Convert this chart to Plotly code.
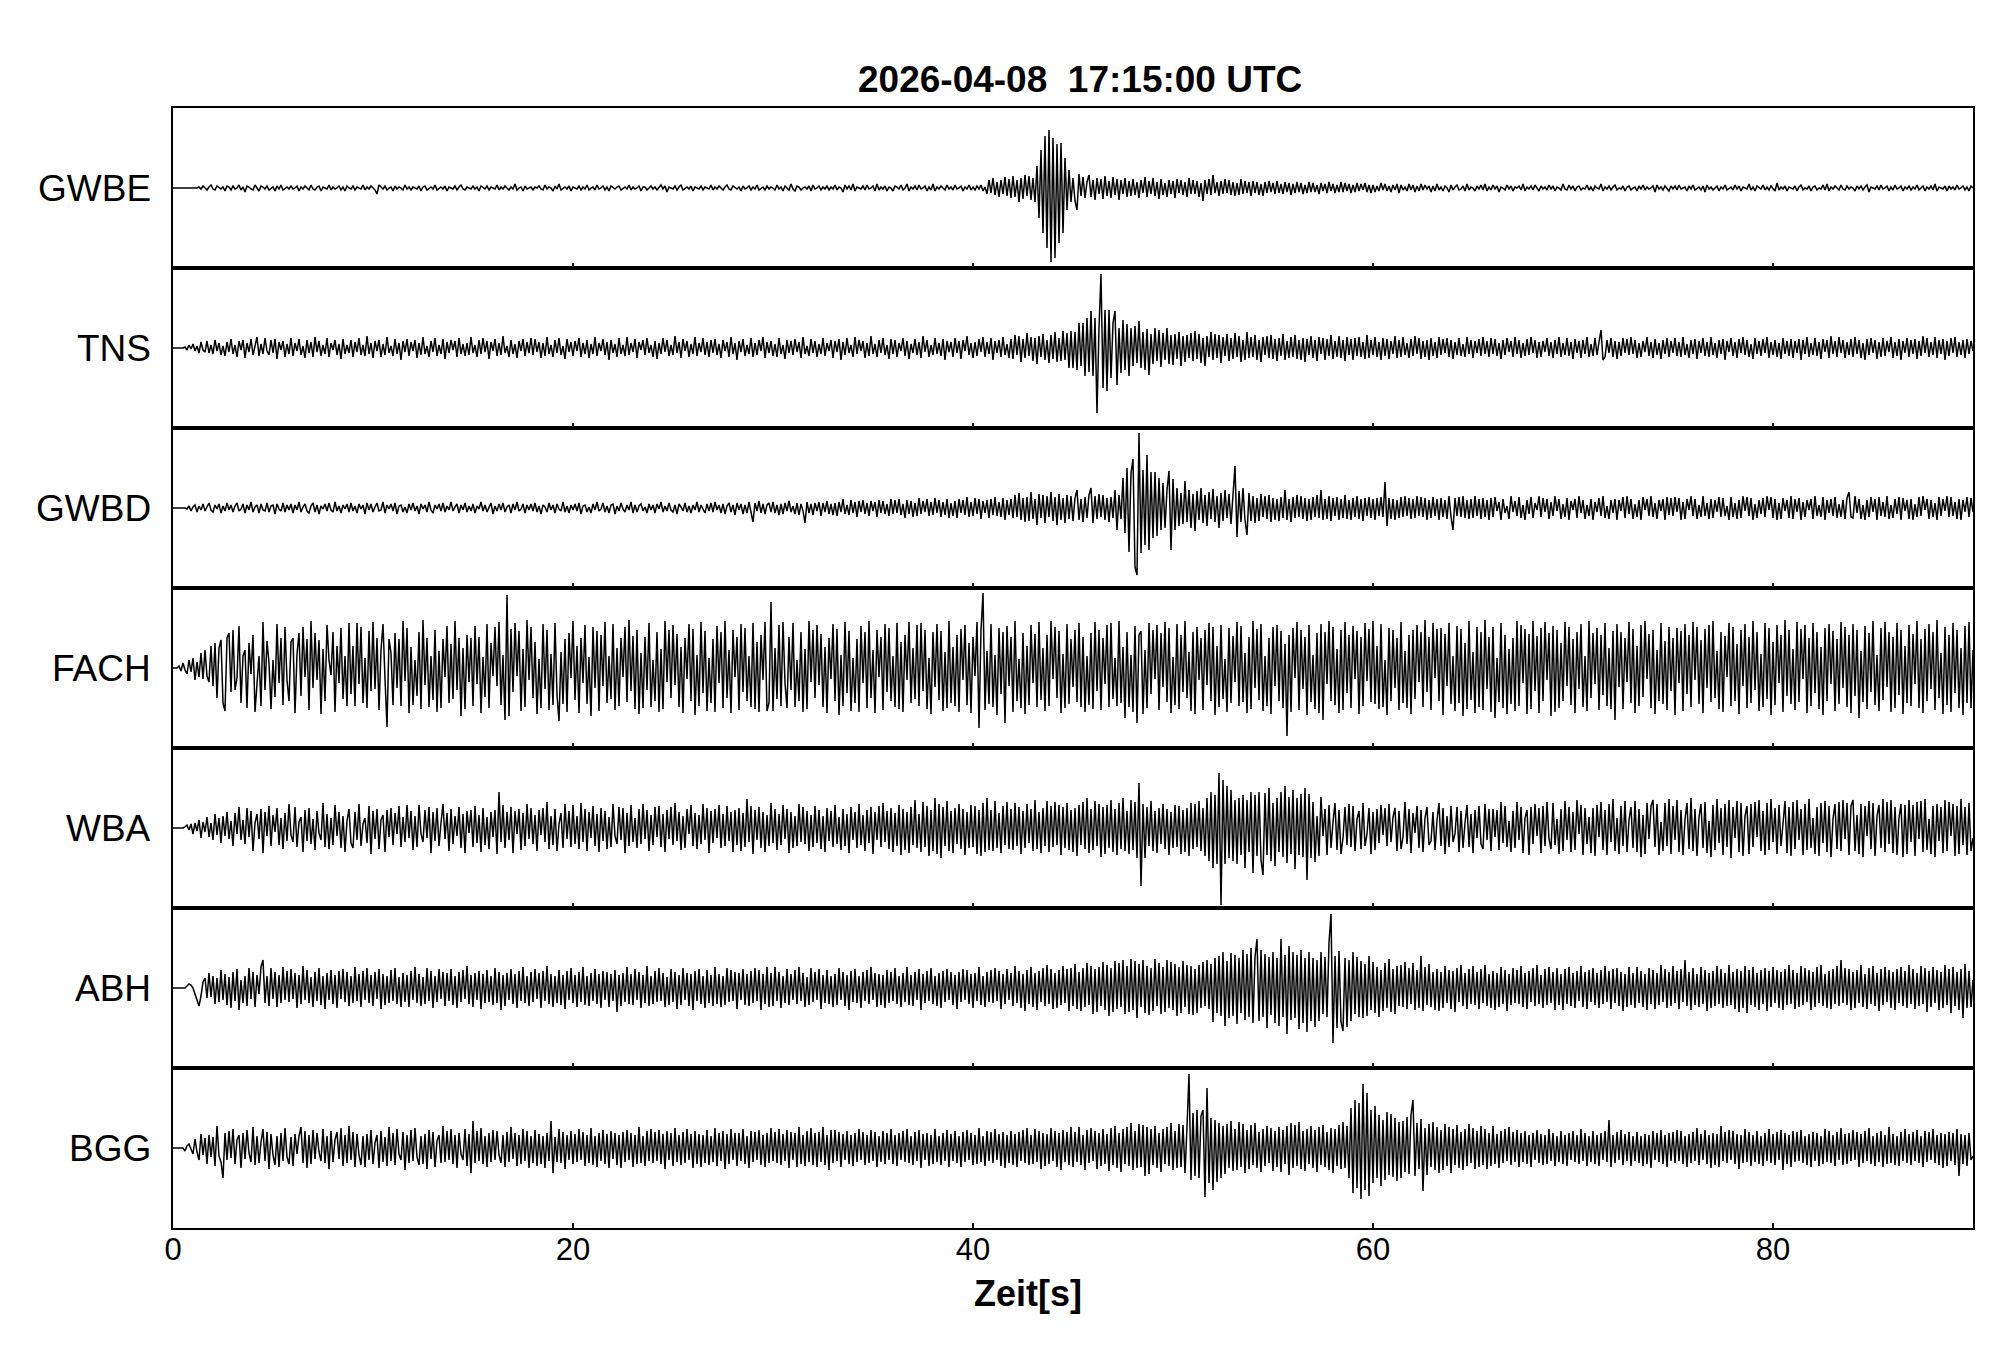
import numpy as np
import plotly.graph_objects as go
from plotly.subplots import make_subplots

TITLE = "2026-04-08\u00a0 17:15:00 UTC"
X_TITLE = "Zeit[s]"
STATIONS = ["GWBE", "TNS", "GWBD", "FACH", "WBA", "ABH", "BGG"]
DT = 0.1  # seconds between samples
X_TICKS = [0, 20, 40, 60, 80]
X_RANGE = [0, 90]

GWBE = [
    0,0,0,0,0,0,0,0,0,0, 0,0,0,1,-1,2,0,-2,1,3, -1,-2,2,0,-1,1,-3,2,1,-2,
    2,-1,0,3,-2,1,-4,2,1,-1, -2,3,0,-3,2,1,-1,2,-2,0, 1,-3,2,-1,3,-2,0,1,-1,2,
    -1,0,2,-3,1,-1,2,0,-2,3, -1,-2,1,2,-3,1,0,-1,3,-2, 1,-1,0,2,-2,1,-3,2,0,-1,
    2,-2,1,0,-1,3,-2,1,-1,2, 0,-2,-6,3,1,-1,2,-2,0,1, -3,2,-1,1,0,-2,3,-1,1,-2,
    1,0,-1,2,-3,1,2,-2,0,1, -1,3,-2,0,1,-1,2,-3,1,0, -1,2,-2,1,3,-1,-2,1,0,-1,
    2,-1,1,-3,2,0,-1,2,-2,1, 0,-1,3,-2,1,-1,2,0,-2,1, -1,4,-2,0,1,-3,2,-1,0,1,
    -2,1,0,2,-1,-2,3,-1,1,0, -3,2,-1,4,-2,0,1,-1,2,-3, 1,0,-1,2,-2,1,-1,3,-2,0,
    1,-2,3,-1,0,2,-2,1,-3,2, 0,-1,1,2,-2,0,1,-1,3,-2, 1,-1,0,2,-3,1,1,-2,0,2,
    -1,1,-2,0,3,-1,2,-4,1,0, -1,2,-2,1,3,-2,0,1,-1,2, -3,1,0,-1,2,-2,1,0,-1,3,
    -2,1,-1,2,0,-2,1,3,-1,-2, 2,0,-1,1,-3,2,-1,0,2,-2, 1,-1,3,-2,0,1,-2,2,-1,1,
    0,-2,3,-1,1,-3,2,0,-2,4, -1,-3,2,1,-2,0,1,-1,2,-3, 3,-1,0,2,-2,1,-1,2,-2,1,
    -1,3,-2,1,0,-4,3,-1,2,-2, 4,-3,1,0,-1,2,-2,3,-1,0, 2,-3,4,-2,1,-1,2,-3,1,0,
    -3,2,1,-1,3,-2,0,4,-3,1, -1,2,-2,3,-1,0,2,-3,1,-2, 4,-3,1,-1,2,0,-2,3,-1,1,
    -2,3,-1,0,2,-3,1,-1,3,-2, 1,-2,2,-1,3,-3,1,-6,8,-5, 10,-7,6,-9,8,-6,11,-8,9,-10,
    12,-9,8,-14,10,-11,13,-8,12,-12, 10,-14,22,-30,38,-45,52,-60,58,-74, 50,-70,44,-55,45,-45,30,-22,18,-14,
    10,-13,-22,14,-8,11,-10,6,13,-9, 8,-12,10,-6,9,-11,12,-8,7,-10, 11,-7,9,-12,8,-6,10,-9,7,-8,
    9,-7,6,-10,8,-5,11,-9,7,-6, 10,-8,6,-11,9,-7,5,-9,8,-6, 7,-10,9,-5,8,-7,6,-9,10,-6,
    8,-6,7,-9,5,-13,8,-6,9,-7, 13,-5,6,-8,7,-6,9,-5,8,-7, 6,-8,5,-7,9,-6,7,-5,6,-8,
    7,-5,6,-7,4,-8,6,-5,7,-4, 5,-6,7,-5,4,-6,6,-4,5,-7, 4,-5,6,-4,5,-6,3,-5,6,-4,
    5,-4,3,-6,5,-3,4,-5,6,-3, 4,-5,3,-4,6,-4,5,-3,4,-5, 3,-4,5,-3,4,-2,5,-4,3,-5,
    3,-4,2,-3,5,-2,4,-3,2,-4, 3,-2,4,-5,3,-2,1,-3,4,-2, 3,-4,2,-3,4,-2,3,-1,2,-4,
    2,-3,4,-2,1,-3,2,0,-4,3, -2,1,3,-2,-1,2,-3,4,-2,1, 0,-3,2,-1,3,-2,4,-3,1,-2,
    3,-1,2,-4,1,0,-2,3,-1,2, -3,1,0,2,-2,4,-3,1,-1,2, -2,3,0,-3,2,-1,1,-2,3,-1,
    2,-3,1,0,-2,4,-1,-2,3,-1, 2,-3,1,2,-2,0,-1,3,-2,1, -3,2,0,-1,4,-3,1,-1,2,-2,
    1,3,-2,0,-1,2,-3,1,2,-2, 0,1,-3,2,-1,3,-2,1,-1,0, 2,-4,3,-1,1,-2,2,0,-3,2,
    -1,2,-2,3,-1,0,1,-3,2,-1, 3,-2,0,1,-2,2,-4,3,-1,1, -2,0,2,-3,1,-1,3,-2,0,1,
    -2,3,-1,2,-3,1,0,-1,4,-2, 1,-3,2,0,-1,3,-2,1,-2,2, 0,-3,5,-2,1,-1,2,-3,1,0,
    -1,2,-3,1,3,-2,0,-1,2,-3, 1,2,-2,0,-1,3,-2,4,-3,1, -1,2,0,-2,3,-1,-2,2,-1,1,
    0,-3,2,-1,2,-2,1,3,-4,1, 0,-1,2,-2,3,-1,0,2,-3,1, -2,3,-1,0,2,-3,1,-1,2,-2,
    1,-1,3,-2,0,2,-3,1,-1,2, -2,4,-3,1,0,-1,2,-3,2,-1, 1,-2,3,-1,0,2,-2,1,-3,2,
    0,
]

TNS = [
    0,0,0,0,0,0,1,-2,3,-1, 4,-3,2,-5,6,-2,-4,7,-5,3, -6,8,-3,5,-7,2,-8,6,-4,9,
    -6,3,-9,7,-2,8,-10,5,-4,9, -7,2,11,-8,4,-6,10,-3,-7,8, -5,9,-11,6,-2,7,-9,4,-6,10,
    -8,5,-3,9,-7,2,-10,8,-5,6, -9,11,-4,7,-8,3,-6,10,-9,5, -2,8,-7,4,-11,9,-6,3,-5,8,
    -9,6,-4,10,-7,3,-8,12,-6,5, -10,7,-3,8,-9,4,-7,11,-5,2, -8,9,-6,5,-12,7,-4,9,-8,6,
    -3,8,-10,5,-7,11,-6,2,-9,7, -4,10,-8,3,-6,9,-11,6,-5,8, -2,7,-9,10,-6,4,-8,5,-7,11,
    -5,3,-9,8,-6,10,-4,7,-11,6, -3,9,-8,5,-7,12,-5,2,-9,8, -6,4,-10,7,-3,9,-8,6,-5,10,
    -7,9,-4,6,-10,5,-8,11,-6,3, -9,8,-5,10,-7,2,-11,9,-4,6, -8,7,-3,10,-9,5,-6,8,-10,4,
    -6,11,-8,5,-3,9,-7,6,-12,8, -5,4,-9,10,-6,3,-8,11,-7,5, -4,9,-10,6,-2,8,-7,10,-5,3,
    -9,7,-11,5,-6,10,-4,8,-8,3, -7,12,-5,6,-10,9,-3,7,-9,4, -6,11,-8,5,-4,10,-7,6,-9,8,
    -5,9,-7,4,-10,8,-3,6,-9,11, -6,5,-12,7,-4,9,-8,3,-6,10, -9,5,-7,8,-3,11,-10,6,-5,7,
    -8,4,-9,10,-6,3,-11,8,-5,7, -7,9,-4,6,-10,11,-6,2,-8,9, -5,7,-9,4,-6,10,-8,5,-3,8,
    -10,7,-4,9,-12,6,-7,10,-5,3, -9,11,-6,8,-3,7,-10,5,-8,12, -6,4,-9,8,-5,10,-7,3,-11,9,
    -6,8,-9,5,-3,10,-8,7,-11,4, -5,9,-7,6,-10,12,-4,8,-9,3, -7,10,-6,5,-8,9,-12,7,-4,6,
    -9,10,-5,7,-11,8,-3,12,-7,5, -10,6,-8,9,-4,11,-9,6,-6,10, -12,7,-5,8,-9,11,-7,4,-10,9,
    -11,13,-7,12,-14,9,-10,15,-8,11, -13,10,-16,12,-9,14,-12,8,-15,13, -11,16,-14,10,-13,17,-12,15,-20,17,
    -20,16,-22,25,-18,25,-28,30,-24,37, -28,30,-65,20,74,-40,38,-43,38,-30, 25,37,-37,20,-25,28,-22,24,-28,20,
    -18,22,-15,27,-20,16,-22,19,-27,14, -16,20,-13,18,-19,15,-12,20,-16,13, -17,14,-11,16,-18,12,-14,13,-10,15,
    -13,17,-11,14,-15,10,-18,12,-9,16, -12,14,-10,13,-15,11,-8,14,-13,10, -11,15,-9,12,-14,8,-12,16,-10,11,
    -9,13,-12,8,-14,11,-7,12,-10,13, -11,9,-13,10,-8,14,-12,7,-10,11, -9,13,-11,8,-12,10,-14,9,-7,12,
    -10,8,-13,11,-6,10,-12,9,-8,13, -11,7,-9,12,-10,8,-13,11,-7,9, -12,10,-8,11,-9,6,-11,13,-10,8,
    -7,11,-9,6,-12,10,-8,9,-11,7, -6,12,-10,8,-9,11,-7,5,-10,9, -8,12,-6,10,-11,7,-9,8,-12,10,
    -8,6,-10,11,-7,9,-5,10,-9,8, -11,6,-7,10,-8,4,-9,11,-6,8, -10,7,-5,9,-8,11,-6,7,-9,10,
    -6,9,-8,5,-11,8,-7,10,-4,7, -9,11,-6,8,-10,5,-8,9,-7,11, -5,8,-10,6,-9,7,-4,10,-8,6,
    -10,8,-6,11,-9,5,-7,10,-8,6, -11,9,-5,7,-10,8,-6,11,-9,4, -8,10,-7,6,18,-12,-9,8,-5,10,
    -9,7,-11,6,-8,10,-5,9,-7,11, -6,8,-10,5,-9,7,-4,11,-8,6, -10,9,-7,5,-11,8,-6,10,-9,7,
    -5,10,-8,6,-9,11,-7,4,-10,8, -6,9,-11,7,-5,10,-8,6,-9,11, -7,5,-10,8,-6,9,-12,7,-4,10,
    -8,6,-10,9,-5,11,-7,8,-9,4, -11,10,-6,7,-8,9,-5,11,-10,6, -7,8,-9,5,-11,10,-6,7,-8,9,
    -10,7,-5,9,-12,8,-6,11,-9,5, -7,10,-8,6,-11,9,-4,8,-10,12, -6,7,-9,11,-5,8,-10,6,-7,9,
    -9,11,-6,8,-10,5,-12,9,-7,10, -5,8,-11,6,-9,10,-8,7,-4,11, -10,6,-8,9,-12,7,-5,10,-9,8,
    -6,9,-11,7,-8,12,-5,10,-9,6, -7,11,-10,8,-6,9,-12,7,-8,10, -5,11,-9,6,-7,8,-10,9,-6,7,
    -3,
]

GWBD = [
    0,0,0,0,0,0,0,-1,2,-3, 1,3,-4,2,-2,4,-3,1,5,-2, -4,3,-1,4,-5,2,-3,5,-2,3,
    -4,2,5,-3,-1,4,-5,3,-2,6, -4,1,3,-5,4,-2,-3,5,-4,2, 3,-6,4,-1,-3,5,-4,3,-2,4,
    -5,3,-2,6,-4,1,4,-3,-5,2, 5,-4,3,-6,2,-1,4,-3,5,-2, -4,6,-3,2,-5,3,-1,4,-4,5,
    -3,2,-5,4,-1,3,-6,5,-2,4, -4,1,5,-3,-2,6,-5,3,-1,4, -3,5,-6,2,3,-4,1,-5,4,-2,
    5,-3,2,-6,4,-1,3,-4,6,-2, -5,3,-1,4,-3,5,-4,2,-2,6, -3,1,4,-5,3,-2,5,-4,2,-3,
    4,-5,2,-1,6,-3,3,-4,1,5, -6,2,-3,4,-2,5,-4,1,3,-5, 4,-2,6,-3,-1,4,-5,3,-2,4,
    -3,5,-4,2,-6,3,1,-4,5,-2, 3,-5,4,-1,-3,6,-4,2,-5,3, -2,4,-3,5,-6,2,3,-4,1,-5,
    4,-2,6,-3,-1,5,-4,2,-5,3, 4,-6,2,-3,5,-1,-4,3,-2,6, -5,3,-4,2,4,-3,1,-5,4,-2,
    3,-5,4,-1,6,-4,2,-3,5,-2, -4,3,-6,4,1,-3,5,-4,2,-5, 3,-2,6,-4,3,-1,-5,4,-3,5,
    -4,6,-2,3,-5,4,-6,2,5,-4, 3,-7,5,-2,4,-6,3,-5,6,-4, -14,5,-3,7,-5,4,-6,3,5,-4,
    6,-5,3,-7,4,-6,5,-3,7,-4, 2,-6,5,-7,4,-3,-15,6,-5,4, -7,5,-3,6,-8,5,-4,7,-6,4,
    -7,5,-8,6,-4,9,-6,3,-7,8, -5,6,-9,7,-4,8,-6,5,-8,7, -3,6,-9,8,-5,7,-6,4,-8,9,
    -6,8,-5,9,-7,4,-10,8,-6,7, -9,5,-8,10,-6,7,-4,9,-8,6, -7,10,-5,8,-9,6,-7,9,-10,5,
    -8,7,-10,9,-5,8,-7,11,-9,6, -8,10,-6,9,-11,7,-5,8,-10,9, -7,11,-8,6,-9,10,-12,8,-7,9,
    -10,13,-9,15,-12,10,-14,11,-13,16, -11,9,-17,14,-10,13,-15,12,-9,16, -13,11,-17,14,-12,10,-15,13,-11,12,
    -13,10,18,-12,9,-14,11,-10,13,20, -15,12,-11,14,-9,13,-12,10,-14,11, -10,18,-22,13,-11,30,-25,40,-44,35,
    49,-59,-67,75,-45,38,-37,53,-42,36, -30,36,-28,30,-22,25,-20,18,37,-42, 29,-22,20,-18,15,-16,27,-14,18,-20,
    14,-23,17,-12,20,-15,13,-18,16,-11, 19,-14,12,-20,15,-13,18,-10,14,-16, 12,42,-29,17,-14,20,-12,-27,15,-13,
    12,-15,10,-13,14,-9,12,-11,13,-14, 10,-12,9,-13,11,-10,18,-12,9,-14, 11,-10,13,-9,12,-11,10,-13,9,-12,
    11,-9,13,-10,18,-12,9,-11,12,-13, 10,-8,11,-12,9,-10,13,-11,8,-12, 10,-9,12,-11,9,-13,10,-8,11,-10,
    9,-12,10,-8,11,-9,26,-18,10,-11, 9,-12,8,-10,11,-9,12,-8,10,-11, 9,-10,12,-8,11,-9,10,-12,8,-10,
    11,-8,9,-12,10,-9,8,-11,12,-9, -22,10,-8,11,-9,12,-10,8,-11,9, -10,12,-8,9,-11,10,-9,8,-12,10,
    -9,11,-3,6,-12,9,-5,2,-11,12, -4,7,-8,11,-10,3,-12,8,-6,11, -10,5,-2,12,-9,10,-4,9,-11,6,
    -8,12,-3,9,-11,4,-9,10,-12,7, -2,9,-10,12,-5,8,-11,3,-8,9, -12,6,-4,10,-8,12,-10,2,-11,8,
    -5,9,-12,8,-3,11,-10,12,-6,9, -11,4,-9,8,-12,11,-2,9,-8,12, -9,5,-11,8,-3,9,-12,11,-7,10,
    -8,11,-4,10,-12,6,-11,9,-2,12, -8,9,-11,3,-9,12,-8,5,-11,9, -10,8,-4,11,-9,10,-8,2,-12,11,
    -9,5,-11,8,-10,12,-3,11,-8,10, -12,4,-10,8,-6,10,-9,12,-2,11, -10,9,-12,5,-11,10,-3,8,-10,12,
    -11,9,-4,10,-12,6,-9,8,-2,9, -11,12,-8,3,-9,11,-12,8,-5,9, -8,11,-10,4,-9,8,-11,10,16,-9,
    -10,12,-5,9,-11,3,-12,8,-9,11, -4,9,-12,11,-8,6,-9,12,-11,3, -10,9,-6,11,-12,10,-3,8,-11,9,
    -12,4,-9,11,-8,12,-2,9,-11,8, -9,5,-12,11,-8,9,-3,12,-9,11, -8,6,-11,9,-12,8,-4,11,-9,10,
    -4,
]

FACH = [
    0,0,0,2,-3,5,-2,-6,8,-4, 10,-12,6,-9,15,-11,18,-8,-14,22, -18,25,-30,20,28,-35,-43,30,35,-24,
    38,-22,-10,42,-35,12,18,-40,25,-6, 33,-44,-20,12,-38,46,-22,27,5,-41, 8,-29,44,-15,30,-37,41,-12,-33,26,
    30,-45,14,35,-28,41,-9,29,-42,47, -20,35,-12,28,-46,19,-33,43,8,-7, 36,-44,22,-15,40,-31,12,-38,45,-26,
    22,-38,45,-16,41,-35,10,-40,37,-23, 46,-21,30,-42,18,44,-11,-59,29,15, -37,35,-20,29,-38,47,-13,40,-45,21,
    -37,8,-28,36,-41,48,-17,30,-39,12, -32,38,-44,17,-40,29,-9,42,-35,24, -31,47,-22,30,-48,20,-41,33,-14,30,
    -38,42,-16,31,-45,11,-29,44,-40,25, -8,41,-18,46,-37,13,-52,73,-48,39, -24,45,-8,37,-43,19,-39,48,-12,41,
    -30,26,-46,9,-40,44,-21,38,-42,14, -37,45,-27,-53,16,-36,29,-44,35,-10, 47,-32,22,-45,30,-15,43,-36,11,-48,
    41,-20,37,-43,33,-18,46,-35,12,-31, 44,-42,20,-38,30,-9,41,-34,48,-23, 32,-41,38,-46,15,-40,31,-22,45,-39,
    8,-33,36,-44,19,-41,47,-14,38,-30, 43,-17,34,-39,21,-45,30,-11,44,-33, 39,-47,13,-38,46,-25,37,-43,10,-35,
    29,-44,42,-15,36,-40,47,-30,18,-45, 38,-9,31,-42,44,-24,40,-33,12,-39, 45,-41,26,-44,33,-12,46,-43,-35,66,
    -43,20,-31,43,-38,46,-15,-40,31,-22, 45,-39,8,-33,36,-44,19,-41,47,-14, 38,-30,43,-17,34,-39,21,-45,30,-11,
    44,-33,39,-47,13,-38,46,-25,37,-43, 10,-35,29,-44,42,-15,36,-40,47,-30, 18,-45,38,-9,31,-42,44,-24,40,-33,
    12,-39,45,-41,26,-44,33,-12,46,-35, 20,-31,43,-38,45,-23,38,-41,10,-46, 36,-19,44,-32,37,-43,16,-40,47,-35,
    21,-38,33,-44,39,-12,43,-37,25,-45, 31,-8,46,-60,38,75,-42,17,-36,44, -39,13,-47,40,-26,36,-55,42,-18,31,
    -44,47,-33,9,-40,35,-46,22,-37,43, -15,34,-39,46,-32,20,-43,33,-38,47, -11,41,-30,37,-45,14,-40,44,-36,29,
    -19,38,-34,45,-39,31,-44,12,-37,35, -41,46,-23,38,-42,30,-16,43,-39,45, -31,10,-38,47,-35,21,-50,36,-39,13,
    -44,42,-55,33,37,-46,18,-40,45,-26, 38,-11,43,-42,35,-19,46,-34,40,-45, 11,-37,44,-41,33,-24,47,-30,16,-43,
    36,-46,41,-12,30,-42,38,-17,45,-33, 41,-47,22,-39,43,-31,9,-44,40,-35, 32,-14,46,-38,42,-34,15,-45,31,-41,
    47,-20,39,-32,44,-43,12,-38,30,-46, 41,-18,43,-33,37,-40,24,-68,33,-44, 40,-10,46,-42,38,-21,31,-47,43,-34,
    13,-41,35,-45,44,-52,36,-16,47,-33, 41,-37,19,-45,38,-42,46,-25,33,-40, 42,-11,37,-46,31,-38,45,-13,39,-34,
    47,-36,22,-41,44,-39,8,-47,40,-33, 38,-20,30,-42,46,-35,17,-40,33,-46, 38,-31,43,-14,36,-39,48,-24,31,-42,
    45,-10,39,-33,40,-47,34,-18,45,-36, 12,-43,42,-35,39,-48,25,-41,47,-32, 16,-45,41,-39,36,-42,48,-21,31,-44,
    41,-50,10,-34,45,-40,33,-46,19,-36, 30,-43,47,-38,43,-15,39,-46,34,-41, 47,-23,32,-45,40,-33,46,-12,35,-48,
    42,-44,38,-40,25,-33,46,-18,41,-37, 29,-45,36,-21,44,-39,12,-43,47,-30, 35,-16,40,-42,33,-27,45,-38,20,-41,
    37,-52,44,-19,36,-41,30,-14,46,-35, 39,-45,22,-38,43,-29,47,-11,34,-40, 38,-46,18,-33,45,-36,27,-42,41,-23,
    30,-47,40,-15,37,-43,44,-26,33,-39, 46,-12,41,-36,28,-45,39,-20,43,-34, 47,-30,17,-41,36,-44,32,-9,45,-38,
    41,-33,24,-46,38,-18,44,-40,31,-35, 47,-22,36,-43,14,-39,45,-31,40,-47, 26,-37,43,-15,33,-44,48,-28,38,-36,
    19,-42,46,-34,39,-11,43,-45,30,-38, 45,-25,36,-41,21,-47,40,-33,44,-16, 37,-43,29,-36,46,-20,41,-39,33,-45,
    44,-28,38,-50,17,-34,42,-41,35,-24, 47,-37,13,-43,40,-32,46,-19,36,-44, 31,-40,45,-27,38,-46,22,-35,43,-38,
    34,-16,47,-40,29,-45,39,-33,44,-21, 36,-42,48,-30,15,-46,41,-37,33,-44, 45,-25,38,-40,20,-47,42,-35,46,-40,
    18,
]

WBA = [
    0,0,0,0,0,0,1,3,-2,4, -6,5,-3,8,-10,6,-4,11,-9,5, -12,14,-7,10,-15,12,-8,16,-11,7,
    -18,15,-6,21,-12,8,-16,20,-9,17, -23,5,14,-11,19,-25,16,-8,22,-18, 13,-4,20,-17,10,-21,15,-13,24,-7,
    -14,21,-19,6,11,-24,18,-13,20,-16, 9,-22,17,-5,-12,25,-19,14,-21,10, -17,23,-8,16,-20,12,-24,7,19,-15,
    -20,16,-12,24,-18,4,10,-15,22,-26, 17,-11,19,-21,8,13,-24,18,-9,20, -17,15,-6,22,-19,11,-14,23,-10,17,
    -22,12,-19,23,-6,-14,18,-10,21,-25, 16,-13,20,-18,5,24,-11,15,-23,19, -16,12,-8,21,-20,14,-25,17,-5,18,
    -19,22,-15,13,-24,20,-17,11,-21,16, -9,18,-26,36,-14,23,-20,16,-12,21, -25,17,-6,19,-22,15,-18,24,-11,20,
    -16,13,-23,18,-7,20,-14,26,-21,12, -17,19,-23,4,15,-20,24,-11,17,-19, 23,-16,12,-21,25,-14,19,-23,16,-10,
    22,-18,14,-24,20,-13,17,-21,11,-19, 24,-8,-16,21,-12,20,-25,15,-18,23, -14,10,-20,19,-16,24,-11,18,-23,13,
    -17,21,-9,22,-19,14,-24,18,-11,21, -17,25,-13,16,-22,12,-20,19,-6,23, -18,15,-21,13,-16,24,-12,20,-25,17,
    -15,19,-10,23,-20,14,-18,22,-13,16, -24,18,-17,20,-23,15,-19,29,-14,22, -26,18,-12,21,-20,16,-24,13,-18,25,
    -15,19,-22,14,-17,23,-11,19,-25,16, -20,12,-18,24,-14,21,-16,17,-23,13, -19,22,-15,18,-21,12,-24,20,-13,17,
    -19,23,-16,11,-22,19,-18,14,-25,21, -12,16,-20,24,-17,13,-23,18,-15,21, -26,16,-12,22,-19,25,-14,17,-21,20,
    -24,15,-18,23,-27,19,-22,16,-25,21, -17,28,-20,14,-24,26,-19,22,-28,18, -23,30,-26,24,-30,21,-18,27,-23,17,
    -25,20,-16,24,-21,19,-27,16,-20,23, -19,22,-26,18,-28,25,-24,30,-22,18, -23,27,-20,15,-25,22,-17,26,-21,19,
    -22,25,-18,21,-26,17,-20,24,-15,19, -23,28,-21,16,-25,20,-18,27,-24,22, -19,26,-17,23,-27,21,-20,25,-22,18,
    -24,20,-28,23,-17,26,-21,30,-25,19, -22,27,-18,24,-29,21,-26,23,-20,28, -24,19,-27,25,-21,30,-23,17,-26,28,
    -22,26,-30,45,-58,24,-30,21,-18,27, -23,17,-25,20,-16,24,-21,19,-27,16, -20,23,-19,22,-26,18,-24,20,-28,25,
    -21,24,-19,27,-23,20,-28,30,-33,36, -40,33,-36,55,-77,48,-36,42,-30,38, -33,28,-36,30,-27,33,-40,28,-24,36,
    -45,33,-28,36,-32,-47,35,-27,40,-33, 25,-38,30,-24,36,-29,42,-35,31,-26, 38,-41,30,-27,34,-29,40,-52,34,-30,
    26,-34,12,-28,31,-8,19,-27,23,-20, 6,25,-22,18,-26,-10,21,-17,24,-19, 22,-23,9,17,-21,25,-18,-6,20,-26,
    16,-22,19,-15,23,-7,20,-18,24,-14, 11,20,-23,17,-21,-9,26,-16,19,-25, 15,-5,22,-20,18,-24,10,21,-17,-13,
    16,-22,8,25,-18,20,-26,12,-19,22, -14,-6,21,-24,17,-20,5,23,-19,14, -25,18,-10,22,-16,-21,24,-12,19,-23,
    19,-9,18,-22,26,-15,22,-19,7,-24, 17,-20,26,-12,21,-25,10,18,-27,21, -16,24,-8,20,-25,22,-18,26,-11,-21,
    25,-17,9,-26,19,-23,27,-12,21,-24, 16,-22,28,-6,23,-27,20,-16,11,-25, 20,-28,23,-9,26,-22,18,-27,24,-14,
    29,-23,10,-26,22,-18,27,-24,8,21, -20,27,-24,19,-29,13,-26,25,-11,22, 28,-19,24,-27,6,-23,25,-18,29,-26,
    22,-12,28,-24,18,-27,9,25,-21,30, -23,19,-28,11,24,-20,26,-25,7,-29, 23,-22,29,-15,20,-27,24,-19,28,-30,
    21,-10,27,-24,25,-28,12,22,-26,24, -19,26,-9,28,-23,17,-27,25,-22,29, -14,20,-26,23,-18,8,27,-25,21,-28,
    26,-21,28,-12,19,-27,24,-22,29,-20, 10,-26,21,-28,25,-15,27,-24,22,-29, 9,24,-21,26,-23,28,-11,25,-27,22,
    28,-23,13,-26,24,-29,22,-8,27,-21, 25,-28,12,23,-20,29,-24,26,-16,28, -25,21,-27,10,24,-29,23,-26,28,-14,
    23,-28,26,-11,27,-24,29,-22,9,-26, 22,-29,24,-13,21,-25,28,-23,26,-8, 24,-28,22,-26,29,-17,21,-27,25,-23,
    -10,
]

ABH = [
    0,0,0,0,0,0,0,2,4,3, 0,-6,-12,-18,-8,6,10,-10,15,-9, 12,-16,10,-14,18,-12,14,-17,11,-20,
    16,-13,19,-22,8,-15,12,-18,20,-11, 16,-19,13,-6,21,28,-15,12,-18,20, -11,16,-19,13,-15,21,-12,17,-14,19,
    -11,15,-20,13,-16,22,-12,18,-15,11, -19,16,-13,20,-17,12,-21,15,-12,18, -16,13,-20,17,-11,19,-14,16,-18,12,
    -15,21,-13,14,-19,17,-12,20,-15,13, -18,16,-11,19,-21,14,-17,12,-15,18, -13,20,-16,11,-19,15,-14,13,-19,17,
    -12,21,-15,14,-18,11,-16,20,-13,17, -20,12,-14,19,-11,16,-18,15,-13,19, -17,12,-20,16,-14,18,-11,22,-16,13,
    -19,15,-12,17,-21,14,-15,18,-14,12, -17,20,-15,16,-22,13,-18,15,-12,19, -16,14,-20,17,-13,21,-15,12,-18,16,
    -14,19,-11,15,-20,17,-13,22,-16,14, -19,12,-15,18,-17,13,-21,17,-12,20, -15,13,-19,16,-14,21,-17,12,-18,15,
    -13,19,-16,14,-20,17,-12,16,-19,14, -13,18,-24,13,-18,15,-14,21,-16,14, -17,19,-12,16,-20,13,-15,22,-18,12,
    -16,17,-14,20,-13,15,-19,11,-17,19, -14,16,-21,13,-17,20,-12,15,-18,14, -22,17,-13,19,-16,12,-20,18,-15,13,
    -18,21,-16,14,-19,12,-17,20,-14,18, -13,16,-21,15,-12,19,-17,14,-18,17, -15,20,-13,18,-22,14,-16,21,-19,15,
    -18,21,-13,16,-20,12,-15,19,-17,14, -12,18,-16,21,-13,15,-19,11,-17,20, -14,16,-12,19,-21,13,-15,18,-16,12,
    -19,14,-17,20,-12,16,-18,13,-22,17, -14,19,-15,12,-20,16,-13,18,-16,21, -12,15,-19,14,-17,13,-20,18,-15,16,
    -13,20,-16,12,-19,15,-14,21,-17,13, -18,16,-12,19,-22,14,-15,17,-13,20, -16,12,-18,15,-20,17,-14,19,-12,16,
    -17,13,-21,16,-14,19,-12,18,-16,14, -20,15,-13,21,-17,12,-19,16,-14,18, -15,20,-13,17,-21,14,-16,19,-12,15,
    -18,22,-15,17,-20,14,-23,18,-16,21, -19,15,-22,17,-14,20,-18,23,-16,19, -21,15,-20,18,-17,22,-15,19,-23,20,
    -18,24,-21,16,-23,20,-19,25,-17,22, -26,19,-24,21,-18,26,-22,23,-28,20, -24,27,-21,25,-19,28,-26,22,-24,29,
    -22,27,-30,24,-19,28,-25,22,-27,20, -23,29,-18,25,-26,21,-24,28,-20,26, -22,24,-28,21,-25,27,-19,23,-26,22,
    -27,19,-25,23,-20,26,-18,28,-21,24, -34,30,-25,32,-28,36,-38,27,-30,35, -28,33,-36,30,-25,38,-32,34,-29,40,
    -35,31,49,-33,38,-29,34,-40,31,-27, 36,-35,30,-38,49,-29,33,-46,42,-32, 36,-30,33,-41,38,-35,30,-44,36,-33,
    30,-39,28,-33,36,-26,31,-29,45,74, -55,32,-40,37,-34,-43,30,-39,28,-33, 36,-26,31,-29,27,-30,24,-28,32,-22,
    26,-25,21,-29,18,-23,25,-20,29,-24, 19,-26,22,-18,23,-19,26,-21,20,-16, 25,-22,18,-20,32,-23,21,-17,24,-19,
    16,-22,19,-23,16,-20,22,-15,18,-21, 17,-24,20,-14,23,-18,15,-21,19,-16, 22,-17,16,-21,19,-15,23,-18,14,-20,
    17,-22,15,-19,21,-16,18,-23,14,-17, 20,-15,18,-16,22,-19,15,-21,17,-14, 20,-18,23,-16,13,-20,19,-17,21,-15,
    16,-22,20,-17,14,-22,19,-16,21,-18, 15,-20,17,-13,22,-19,16,-21,18,-14, 20,-17,15,-20,18,-16,22,-14,17,-21,
    19,-15,20,-18,16,-23,14,-19,21,-17, 15,-20,21,-15,17,-19,14,-22,20,-16, 18,-21,15,-17,23,-14,19,-20,16,-18,
    22,-15,17,-21,19,-14,28,-18,16,-22, 20,-17,14,-19,21,-16,18,-23,15,-20, 17,-18,22,-16,19,-20,15,-18,23,-17,
    16,-21,19,-24,17,-20,22,-25,18,-17, 21,-19,15,-22,18,-16,20,-23,17,-19, 21,-15,18,-20,16,-22,19,-17,23,-16,
    18,-21,15,-19,22,-17,20,-14,18,-22, 16,-19,21,-15,23,-18,14,-20,17,-21, 19,-16,22,-18,28,-15,20,-17,19,-22,
    16,-20,18,-15,23,-19,14,-21,20,-16, 22,-18,15,-23,19,-17,21,-14,18,-20, 16,-22,19,-15,21,-18,17,-20,23,-16,
    19,-21,15,-18,22,-16,20,-24,17,-19, 21,-15,18,-22,16,-20,23,-17,19,-25, 21,-18,16,-22,19,-30,24,-20,17,-19,
    8,
]

BGG = [
    0,0,0,0,0,0,-3,2,4,-2, -6,9,-4,-12,14,-7,10,-16,13,-9, 11,-18,22,-8,-14,-30,15,-12,17,-10,
    19,-16,8,13,-20,15,-11,18,-5,-14, 21,-17,12,-15,6,19,-13,16,-21,14, -7,-17,12,-19,15,-13,20,-9,-16,11,
    -18,14,-6,12,21,-15,17,-20,13,-16, 18,-11,15,-4,-13,19,-15,12,-21,17, -14,8,16,-11,20,-18,13,-15,22,-12,
    16,-19,14,-7,-17,12,-19,14,-12,18, -16,5,13,-20,17,-14,11,-18,21,-13, 15,-17,19,-6,-12,16,-22,13,-15,18,
    -13,20,-9,-17,12,-16,14,-21,18,-11, 16,-19,7,13,-15,22,-14,17,-12,19, -16,13,-20,15,-6,-12,19,-18,14,-25,
    27,-15,17,-13,20,-16,12,-19,15,-14, 18,-12,17,-7,-15,13,-19,16,-14,21, -11,15,-18,13,-16,19,-13,17,-20,12,
    -15,18,-18,14,-16,12,-20,15,-13,27, -25,11,-14,19,-15,16,-21,13,-12,17, -16,14,-14,19,-12,16,-18,13,-15,20,
    -17,12,-19,15,-13,18,-16,14,-20,17, -11,15,-17,13,-20,16,-14,18,-12,15, -19,13,-16,21,-15,12,-18,17,-13,19,
    -15,16,-13,18,-16,14,-21,17,-12,15, -18,20,-14,13,-17,16,-15,19,-12,14, -20,17,-16,14,-19,13,-15,18,-17,12,
    -14,20,-18,15,-13,17,-21,14,-16,19, -12,15,-18,15,-13,19,-16,12,-20,17, -14,16,-12,18,-17,13,-19,15,-15,20,
    -13,16,-15,19,-17,14,-13,18,-20,16, -12,15,-19,21,-16,13,-18,17,-14,20, -17,15,-19,16,-14,21,-17,13,-22,18,
    -15,18,-13,16,-19,14,-12,17,-16,13, -18,15,-14,19,-12,16,-17,13,-15,18, -13,16,-19,12,-14,17,-16,15,-12,19,
    -16,13,-18,15,-12,17,-14,19,-15,12, -17,16,-13,18,-20,14,-12,15,-18,13, -16,19,-14,12,-17,15,-13,18,-19,14,
    -13,17,-15,12,-19,16,-14,18,-12,15, -17,13,-16,20,-14,12,-18,17,-13,16, -15,19,-12,14,-18,16,-20,13,-15,17,
    -17,14,-19,16,-13,18,-15,20,-17,13, -16,19,-14,17,-21,15,-18,14,-16,20, -13,17,-19,15,-22,18,-14,16,-17,21,
    -19,16,-14,21,-17,13,-22,18,-15,20, -13,17,-21,15,-18,19,-16,14,-23,20, -17,22,-20,15,-24,19,-16,21,-18,25,
    -22,17,-20,24,-19,23,-28,21,-26,19, -17,22,-20,15,-24,19,-16,21,-18,25, -22,17,-20,24,-19,23,-25,21,74,-32,
    35,-28,38,-30,32,38,-49,60,-35,30, -42,28,-34,25,-30,22,-26,24,-20,27, -23,19,-22,26,-19,24,-25,18,-21,23,
    -17,25,-20,16,-24,19,-18,22,-15,20, -23,17,-19,21,-24,18,-16,22,-27,25, -20,23,-18,26,-21,17,-23,19,-16,22,
    -20,18,-24,21,-17,23,-19,16,-22,20, -25,19,-18,23,-21,26,-20,22,-30,40, -45,48,-40,45,-51,64,-42,55,-48,38,
    -35,42,-30,33,-38,28,-32,36,-27,34, -29,30,-33,26,-30,27,-24,31,-26,33, 48,-28,25,-21,29,-43,20,-27,24,-19,
    26,-22,21,-25,18,-22,24,-18,21,-25, 19,-17,23,-20,16,-22,19,-18,24,-15, 20,-21,17,-19,22,-17,19,-21,15,-18,
    22,-16,14,-20,17,-15,19,-13,21,-17, 16,-14,18,-19,15,-14,17,-16,13,-19, 15,-12,18,-15,14,-17,13,-16,19,-13,
    15,-18,12,-14,17,-16,13,-18,15,-12, 17,-14,13,-16,19,-13,15,-18,12,-14, 17,-16,13,-18,15,-12,17,-14,28,-19,
    13,-15,16,-12,18,-17,14,-13,16,-18, 12,-13,16,-15,12,-18,14,-16,13,-20, 17,-12,15,-14,18,-16,13,-19,15,-13,
    16,-15,18,-13,17,-16,12,-19,14,-15, 16,-13,20,-17,14,-12,18,-16,13,-20, 15,-17,14,-19,22,-13,16,-15,18,-12,
    17,-16,14,-21,13,-15,19,-14,16,-18, 13,-14,17,-16,12,-18,15,-13,19,-15, 14,-17,16,-12,18,-22,15,-16,13,-19,
    17,-14,16,-13,18,-15,12,-17,14,-19, 16,-13,15,-18,12,-16,19,-14,17,-15, 13,-18,16,-12,20,-17,14,-16,15,-13,
    18,-12,16,-19,14,-15,17,-13,20,-16, 12,-18,15,-14,17,-19,13,-16,21,-15, 14,-17,12,-18,16,-13,19,-15,14,-17,
    16,-13,18,-15,12,-19,17,-14,16,-12, 19,-15,13,-17,15,-20,14,-18,16,-13, 15,-17,19,-28,14,-16,13,-18,15,-12,
    -8,
]

SERIES = [GWBE, TNS, GWBD, FACH, WBA, ABH, BGG]

FONT = "Liberation Sans, Arial, Helvetica, sans-serif"
N = len(STATIONS)

fig = make_subplots(rows=N, cols=1, shared_xaxes=True, vertical_spacing=0)

for i, (name, vals) in enumerate(zip(STATIONS, SERIES)):
    t = np.arange(len(vals)) * DT
    fig.add_trace(
        go.Scatter(x=t, y=vals, mode="lines", name=name,
                   line=dict(color="black", width=1.5),
                   showlegend=False, hoverinfo="skip"),
        row=i + 1, col=1,
    )
    fig.update_xaxes(
        range=X_RANGE, tickvals=X_TICKS, ticks="inside", ticklen=5, tickwidth=2,
        tickcolor="black", showline=True, mirror=True, linecolor="black", linewidth=2,
        showgrid=False, zeroline=False, showticklabels=(i == N - 1),
        ticklabelstandoff=-7,
        tickfont=dict(family=FONT, size=31, color="black"),
        row=i + 1, col=1,
    )
    fig.update_yaxes(
        range=[-80, 80], showline=True, mirror=True, linecolor="black", linewidth=2,
        showgrid=False, zeroline=False, showticklabels=False, ticks="",
        row=i + 1, col=1,
    )
    yref = "y domain" if i == 0 else f"y{i + 1} domain"
    fig.add_annotation(
        text=name, xref="paper", x=0, xanchor="right", xshift=-20,
        yref=yref, y=0.5, yanchor="middle", showarrow=False,
        font=dict(family=FONT, size=37, color="black"),
    )

fig.add_annotation(
    text=f"<b>{TITLE}</b>", xref="paper", x=0.504, xanchor="center",
    yref="paper", y=1, yanchor="bottom", yshift=6, showarrow=False,
    font=dict(family=FONT, size=37, color="black"),
)
fig.add_annotation(
    text=f"<b>{X_TITLE}</b>", xref="paper", x=0.475, xanchor="center",
    yref="paper", y=-0.0589, yanchor="middle", showarrow=False,
    font=dict(family=FONT, size=36, color="black"),
)

fig.update_layout(
    width=1989, height=1345,
    margin=dict(l=165, r=24, t=100, b=125),
    plot_bgcolor="white", paper_bgcolor="white",
    font=dict(family=FONT, color="black"),
)

fig.write_html("out.html")
